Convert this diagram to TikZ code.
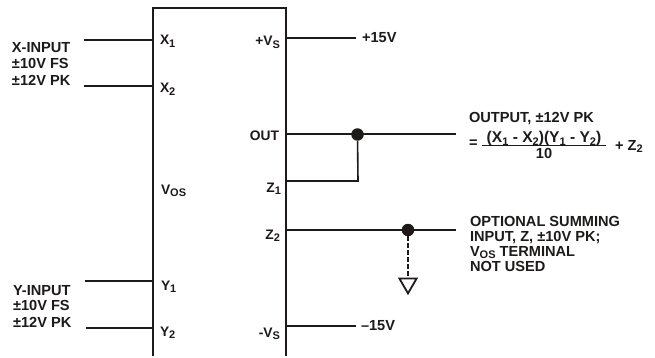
\documentclass[tikz,border=0pt]{standalone}
\usepackage{fontspec}
\setmainfont{Liberation Sans}[BoldFont={Liberation Sans Bold}]
\usetikzlibrary{shapes.geometric}
\definecolor{ink}{HTML}{1E1A1A}
\newcommand{\lowsub}[1]{\raisebox{-0.35ex}{\fontsize{11}{11}\selectfont #1}}
\tikzset{
  lbl/.style={inner sep=0pt,outer sep=0pt,text=ink,font=\fontsize{13.8}{14.6}\selectfont\bfseries,align=left},
  side/.style={lbl,font=\fontsize{14.6}{14.6}\selectfont\bfseries},
  wire/.style={draw=ink,line width=2pt},
  thin wire/.style={draw=ink,line width=1.6pt},
  dotj/.style={circle,fill=ink,draw=none,minimum size=12.5pt,inner sep=0pt},
  gnd/.style={regular polygon,regular polygon sides=3,shape border rotate=180,draw=ink,line width=1.8pt,fill=white,minimum size=20pt,inner sep=0pt}
}
\begin{document}
\begin{tikzpicture}[x=1pt,y=-1pt]
\useasboundingbox[fill=white] (0,0) rectangle (655,358);
% box (open at the bottom)
\coordinate (bl) at (153,356); \coordinate (tl) at (153,8);
\coordinate (tr) at (286,8); \coordinate (br) at (286,356);
\draw[wire,line cap=butt] (bl) -- (tl) -- (tr) -- (br);
% free ends and pins
\coordinate (x1a) at (84,40); \coordinate (x1b) at (153,40);
\coordinate (x2a) at (84,86); \coordinate (x2b) at (153,86);
\coordinate (y1a) at (85,281); \coordinate (y1b) at (153,281);
\coordinate (y2a) at (86,328); \coordinate (y2b) at (153,328);
\coordinate (vpb) at (286,38); \coordinate (vpe) at (356,38);
\coordinate (outb) at (286,134.5); \coordinate (oute) at (456,134.5);
\coordinate (z1b) at (286,181); \coordinate (z1c) at (358,181);
\coordinate (z2b) at (286,230); \coordinate (z2e) at (456,230);
\coordinate (vmb) at (286,326); \coordinate (vme) at (356,326);
\draw[wire] (x1a) -- (x1b);
\draw[wire] (x2a) -- (x2b);
\draw[wire] (y1a) -- (y1b);
\draw[wire] (y2a) -- (y2b);
\draw[wire] (vpb) -- (vpe);
\draw[wire] (outb) -- (oute);
\draw[wire] (z2b) -- (z2e);
\draw[wire] (vmb) -- (vme);
\node[dotj] (j1) at (357.5,134.5) {};
\node[dotj] (j2) at (408,230) {};
\draw[thin wire] (z1b) -- (z1c) -- (j1);
\node[gnd,anchor=north] (g) at (408,277.5) {};
\draw[draw=ink,line width=2pt,dash pattern=on 5pt off 2pt] (j2) -- (g.north);
% pin labels
\node[lbl,anchor=base west] (lx1) at (160,45) {X\lowsub{1}};
\node[lbl,anchor=base west] (lx2) at (160,93) {X\lowsub{2}};
\node[lbl,anchor=base west] (lvos) at (161,194) {V\lowsub{OS}};
\node[lbl,anchor=base west] (ly1) at (161,290) {Y\lowsub{1}};
\node[lbl,anchor=base west] (ly2) at (160,336) {Y\lowsub{2}};
\node[lbl,anchor=base east] (lvp) at (280,46) {+V\lowsub{S}};
\node[lbl,anchor=base east] (lout) at (279,141) {OUT};
\node[lbl,anchor=base east] (lz1) at (281,192) {Z\lowsub{1}};
\node[lbl,anchor=base east] (lz2) at (280,239) {Z\lowsub{2}};
\node[lbl,anchor=base east] (lvm) at (280,337) {-V\lowsub{S}};
% side labels
\node[side,anchor=base west] (xa) at (12,53) {X-INPUT};
\node[side,anchor=base west] (xb) at (12,69) {±10V FS};
\node[side,anchor=base west] (xc) at (12,86) {±12V PK};
\node[side,anchor=base west] (ya) at (13,295) {Y-INPUT};
\node[side,anchor=base west] (yb) at (13,310.5) {±10V FS};
\node[side,anchor=base west] (yc) at (13,327) {±12V PK};
\node[side,anchor=base west] (p15) at (362,43) {+15V};
\node[side,anchor=base west] (m15) at (361,330.5) {–15V};
\node[side,anchor=base west] (o1) at (469,122.5) {OUTPUT, ±12V PK};
\node[side,anchor=base west] (eq) at (469,148) {=};
\node[side,anchor=base,font=\fontsize{15.6}{16}\selectfont\bfseries] (num) at (544,142.5) {(X\lowsub{1} - X\lowsub{2})(Y\lowsub{1} - Y\lowsub{2})};
\node[side,anchor=base] (den) at (544,159) {10};
\coordinate (fa) at (482,145.5); \coordinate (fb) at (606,145.5);
\draw[draw=ink,line width=1pt] (fa) -- (fb);
\node[side,anchor=base west] (pz) at (615,150) {+ Z\lowsub{2}};
\node[side,anchor=base west] (opta) at (470,226.5) {OPTIONAL SUMMING};
\node[side,anchor=base west] (optb) at (470,241.5) {INPUT, Z, ±10V PK;};
\node[side,anchor=base west] (optc) at (470,256) {V\lowsub{OS} TERMINAL};
\node[side,anchor=base west] (optd) at (470,271) {NOT USED};
\end{tikzpicture}
\end{document}
